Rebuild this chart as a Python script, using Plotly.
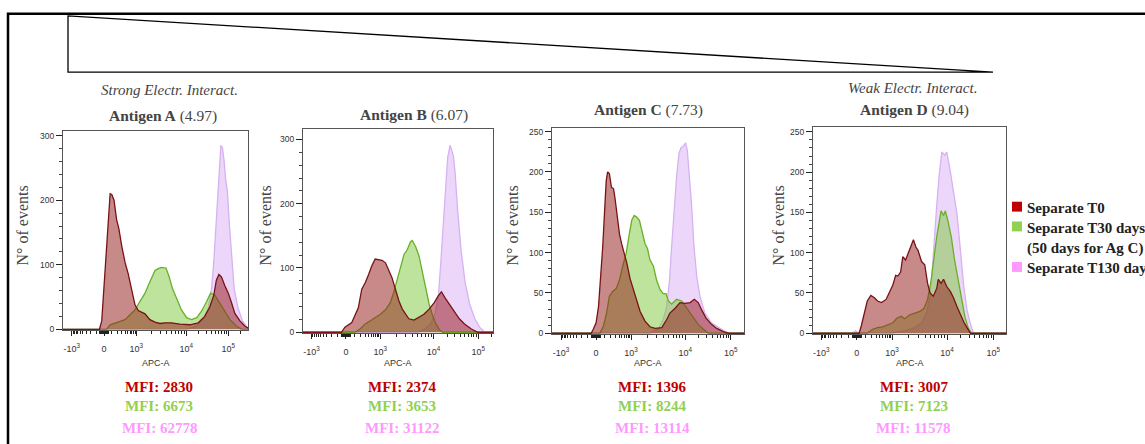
import numpy as np
import plotly.graph_objects as go

W, H = 1145, 444

# ---------------- data ----------------
# x values are positions on the biexponential APC-A display axis
# (-10^3 -> -1, 0 -> 0, 10^3 -> 1, 10^4 -> 2.55, 10^5 -> 3.85); y = number of events
x_tick_pos = [-1, 0, 1, 2.55, 3.85]
x_tick_text = ["-10<sup>3</sup>", "0", "10<sup>3</sup>", "10<sup>4</sup>", "10<sup>5</sup>"]

antigens = ["Antigen A", "Antigen B", "Antigen C", "Antigen D"]
pi_values = ["4.97", "6.07", "7.73", "9.04"]
mfi_t0 = [2830, 2374, 1396, 3007]
mfi_t30 = [6673, 3653, 8244, 7123]
mfi_t130 = [62778, 31122, 13114, 11578]
legend_labels = ["Separate T0", "Separate T30 days<br>(50 days for Ag C)", "Separate T130 days"]

# Antigen A
a_t0_u = [-1.3, -0.14, -0.07, 0.03, 0.11, 0.19, 0.24, 0.31, 0.39, 0.46, 0.55, 0.65, 0.75, 0.86, 0.96, 1.06, 1.16, 1.27, 1.42, 1.58, 1.73, 1.89, 2.09, 2.35, 2.66, 2.92, 3.12, 3.28, 3.40, 3.48, 3.56, 3.64, 3.74, 3.85, 3.95, 4.05, 4.21, 4.36, 4.5]
a_t0_n = [0, 0, 13, 89, 165, 210, 209, 200, 170, 156, 129, 104, 86, 63, 38, 29, 27, 24, 15, 11, 9, 10, 10, 8, 7, 10, 20, 35, 53, 76, 85, 81, 68, 56, 41, 25, 13, 5, 1]
a_t30_u = [-1.3, 0.08, 0.19, 0.34, 0.49, 0.65, 0.80, 0.96, 1.11, 1.27, 1.37, 1.47, 1.58, 1.68, 1.78, 1.92, 2.02, 2.12, 2.25, 2.40, 2.56, 2.71, 2.87, 3.02, 3.18, 3.30, 3.43, 3.59, 3.74, 3.90, 4.10, 4.26, 4.5]
a_t30_n = [0, 0, 7, 10, 13, 15, 22, 30, 43, 56, 68, 79, 91, 94, 96, 95, 81, 63, 48, 30, 18, 15, 18, 28, 43, 56, 53, 41, 28, 15, 5, 0, 0]
a_t130_u = [-1.3, 2.56, 2.87, 3.07, 3.23, 3.33, 3.40, 3.46, 3.52, 3.57, 3.62, 3.67, 3.72, 3.77, 3.82, 3.88, 3.95, 4.03, 4.15, 4.29, 4.43, 4.5]
a_t130_n = [0, 0, 5, 15, 33, 63, 104, 155, 205, 256, 285, 281, 261, 231, 215, 165, 114, 63, 33, 13, 3, 1]

# Antigen B
b_t0_u = [-1.3, -0.13, -0.03, 0.07, 0.17, 0.26, 0.36, 0.46, 0.56, 0.66, 0.75, 0.85, 0.95, 1.05, 1.15, 1.25, 1.34, 1.44, 1.54, 1.64, 1.74, 1.83, 1.98, 2.13, 2.27, 2.42, 2.57, 2.69, 2.78, 2.88, 3.01, 3.16, 3.30, 3.45, 3.65, 3.84, 4.4]
b_t0_n = [0, 0, 8, 12, 15, 26, 38, 67, 77, 90, 103, 114, 113, 112, 108, 97, 85, 67, 49, 36, 28, 21, 19, 23, 28, 36, 46, 57, 63, 54, 44, 31, 21, 13, 5, 0, 0]
b_t30_u = [-1.3, 0.26, 0.41, 0.56, 0.71, 0.85, 1.0, 1.15, 1.29, 1.39, 1.49, 1.59, 1.69, 1.78, 1.88, 1.93, 2.03, 2.13, 2.23, 2.32, 2.42, 2.52, 2.62, 2.72, 2.81, 4.4]
b_t30_n = [0, 0, 5, 13, 18, 23, 28, 35, 46, 62, 82, 105, 121, 128, 141, 143, 133, 118, 92, 67, 44, 26, 13, 4, 0, 0]
b_t130_u = [-1.3, 2.08, 2.27, 2.47, 2.59, 2.69, 2.76, 2.83, 2.89, 2.96, 3.03, 3.08, 3.13, 3.18, 3.25, 3.35, 3.47, 3.60, 3.75, 3.89, 4.04, 4.4]
b_t130_n = [0, 0, 4, 13, 28, 56, 108, 169, 221, 272, 291, 282, 274, 246, 190, 128, 77, 44, 21, 8, 0, 0]

# Antigen C
c_t0_u = [-1.3, -0.14, -0.08, 0.0, 0.07, 0.13, 0.19, 0.24, 0.29, 0.33, 0.38, 0.44, 0.50, 0.54, 0.61, 0.67, 0.73, 0.80, 0.88, 0.97, 1.07, 1.16, 1.26, 1.40, 1.54, 1.69, 1.88, 2.02, 2.11, 2.26, 2.40, 2.54, 2.69, 2.81, 2.92, 3.02, 3.14, 3.30, 3.45, 3.64, 3.78, 4.3]
c_t0_n = [0, 0, 5, 13, 33, 66, 107, 148, 189, 200, 198, 181, 179, 168, 144, 123, 111, 101, 87, 68, 54, 40, 27, 15, 8, 6, 7, 17, 25, 31, 38, 37, 38, 42, 38, 29, 19, 11, 6, 2, 0, 0]
c_t30_u = [-1.3, 0.11, 0.21, 0.30, 0.38, 0.48, 0.57, 0.67, 0.76, 0.86, 0.95, 1.02, 1.09, 1.16, 1.24, 1.31, 1.40, 1.47, 1.54, 1.64, 1.73, 1.83, 1.92, 2.0, 2.07, 2.16, 2.30, 2.45, 2.59, 2.78, 2.92, 3.07, 3.21, 4.3]
c_t30_n = [0, 0, 9, 25, 46, 52, 55, 66, 83, 99, 123, 140, 146, 144, 140, 127, 111, 105, 91, 83, 66, 54, 49, 49, 40, 36, 42, 40, 31, 19, 11, 5, 0, 0]
c_t130_u = [-1.3, 1.54, 1.78, 1.92, 2.02, 2.10, 2.16, 2.23, 2.30, 2.37, 2.43, 2.50, 2.56, 2.61, 2.67, 2.73, 2.80, 2.88, 2.97, 3.11, 3.30, 3.50, 3.69, 3.83, 4.3]
c_t130_n = [0, 0, 5, 17, 33, 66, 107, 152, 193, 223, 230, 232, 236, 226, 197, 160, 107, 70, 46, 25, 13, 7, 2, 0, 0]

# Antigen D
d_t0_u = [-1.3, 0.07, 0.13, 0.21, 0.30, 0.40, 0.50, 0.59, 0.70, 0.83, 0.92, 1.02, 1.10, 1.16, 1.24, 1.30, 1.38, 1.45, 1.52, 1.60, 1.67, 1.73, 1.83, 1.92, 2.0, 2.07, 2.16, 2.26, 2.30, 2.38, 2.45, 2.54, 2.64, 2.73, 2.83, 2.92, 3.02, 3.11, 3.21, 4.3]
d_t0_n = [0, 0, 9, 25, 40, 47, 44, 40, 38, 42, 50, 60, 72, 71, 76, 95, 91, 99, 105, 116, 107, 103, 89, 85, 62, 50, 46, 56, 67, 62, 67, 58, 52, 44, 33, 23, 14, 7, 0, 0]
d_t30_u = [-1.3, 0.30, 0.45, 0.59, 0.73, 0.88, 1.02, 1.14, 1.26, 1.35, 1.50, 1.64, 1.78, 1.90, 2.0, 2.10, 2.19, 2.26, 2.32, 2.38, 2.45, 2.50, 2.57, 2.67, 2.76, 2.86, 2.95, 3.05, 3.14, 3.24, 4.3]
d_t30_n = [0, 0, 5, 7, 8, 11, 13, 19, 21, 18, 23, 25, 27, 31, 42, 66, 99, 121, 136, 152, 146, 152, 140, 119, 91, 66, 42, 21, 7, 0, 0]
d_t130_u = [-1.3, -0.12, -0.03, 0.07, 0.97, 1.35, 1.64, 1.83, 1.97, 2.07, 2.13, 2.19, 2.26, 2.32, 2.40, 2.48, 2.54, 2.61, 2.69, 2.75, 2.83, 2.90, 2.95, 3.02, 3.11, 3.21, 3.30, 4.3]
d_t130_n = [0, 0, 3, 0, 0, 3, 7, 13, 25, 46, 78, 119, 160, 193, 225, 221, 225, 209, 185, 168, 148, 115, 87, 58, 29, 11, 0, 0]

panel_series = [
    (a_t0_u, a_t0_n, a_t30_u, a_t30_n, a_t130_u, a_t130_n),
    (b_t0_u, b_t0_n, b_t30_u, b_t30_n, b_t130_u, b_t130_n),
    (c_t0_u, c_t0_n, c_t30_u, c_t30_n, c_t130_u, c_t130_n),
    (d_t0_u, d_t0_n, d_t30_u, d_t30_n, d_t130_u, d_t130_n),
]

# ---------------- layout helpers ----------------
def px(x):
    return x / W

def py(y):
    return 1 - y / H

# plot frames in pixels: (left, top, right, bottom), x range, y range
frames = [
    ((63, 131, 248, 333), [-1.27, 4.46], [-1.5, 308], 100, 20),
    ((303, 129, 493, 336), [-1.25, 4.28], [-1.5, 317], 100, 20),
    ((552, 128, 744, 337), [-1.26, 4.23], [-1.2, 255], 50, 10),
    ((813, 127, 1006, 337), [-1.23, 4.21], [-1.2, 256.6], 50, 10),
]
ylab_x = [22, 265, 512, 778]
title_pos = [(163, 116), (414, 115), (648, 110), (914, 110)]

# decoration: minor tick positions on the biexponential axis
def to_disp(v):
    a = abs(v)
    if a >= 1000:
        anchors = {3: 1.0, 4: 2.55, 5: 3.85, 6: 5.15}
        k = int(np.floor(np.log10(a)))
        d = anchors[k] + (anchors[k + 1] - anchors[k]) * (np.log10(a) - k)
    else:
        d = np.arcsinh(a / 150) / np.arcsinh(1000 / 150)
    return float(np.sign(v) * d)

minor_vals = []
for m in range(1, 10):
    minor_vals += [-m * 100, m * 100, m * 1000, m * 10000]
for m in range(1, 6):
    minor_vals += [-m * 10, m * 10]
minor_vals += [2e5]
minor_pos = sorted(set(round(to_disp(v), 4) for v in minor_vals if v not in (1000, 10000)))

RED_FILL, RED_LINE = "rgba(150,28,28,0.52)", "rgb(120,18,22)"
GRN_FILL, GRN_LINE = "rgba(125,200,60,0.5)", "rgb(104,176,40)"
PNK_FILL, PNK_LINE = "rgba(212,165,245,0.45)", "rgb(214,178,240)"

SERIF = "Liberation Serif, DejaVu Serif, serif"
SANS = "Liberation Sans, Arial, sans-serif"

fig = go.Figure()
layout = dict()
annotations = []

for i, ((l, t, r, b), xr, yr, ymaj, ymin) in enumerate(frames):
    k = "" if i == 0 else str(i + 1)
    xa, ya = "x" + k, "y" + k
    t0u, t0n, t30u, t30n, t130u, t130n = panel_series[i]
    for (u, n, fc, lc) in [(t130u, t130n, PNK_FILL, PNK_LINE),
                           (t30u, t30n, GRN_FILL, GRN_LINE),
                           (t0u, t0n, RED_FILL, RED_LINE)]:
        fig.add_trace(go.Scatter(x=u, y=n, xaxis=xa, yaxis=ya, mode="lines",
                                 fill="tozeroy", fillcolor=fc,
                                 line=dict(color=lc, width=1.3),
                                 showlegend=False, hoverinfo="skip", cliponaxis=True))
    layout["xaxis" + k] = dict(
        domain=[px(l), px(r)], range=xr, anchor=ya,
        tickmode="array", tickvals=x_tick_pos, ticktext=x_tick_text,
        ticks="outside", ticklen=5, tickwidth=1.2, tickcolor="#222",
        ticklabelstandoff=5,
        tickfont=dict(family=SANS, size=9, color="#333"),
        minor=dict(tickvals=minor_pos, ticklen=3, tickwidth=1, tickcolor="#222", ticks="outside"),
        showline=True, linecolor="#555", linewidth=1, mirror=True,
        showgrid=False, zeroline=False, fixedrange=True)
    layout["yaxis" + k] = dict(
        domain=[py(b), py(t)], range=yr, anchor=xa,
        dtick=ymaj, tick0=0, ticks="outside", ticklen=6, tickwidth=1.2, tickcolor="#222",
        tickfont=dict(family=SANS, size=8.5, color="#333"),
        minor=dict(dtick=ymin, tick0=0, ticklen=3, tickwidth=1, tickcolor="#444", ticks="outside"),
        showline=True, linecolor="#555", linewidth=1, mirror=True,
        showgrid=False, zeroline=False, fixedrange=True)

    cx = (l + r) / 2
    annotations.append(dict(text="N° of events", x=px(ylab_x[i]), y=py(227), textangle=-90,
                            font=dict(family=SERIF, size=16, color="#444")))
    annotations.append(dict(text="APC-A", x=px(cx), y=py(366),
                            font=dict(family=SANS, size=9, color="#333")))
    annotations.append(dict(text=f"<b>MFI: {mfi_t0[i]}</b>", x=px(cx + 4), y=py(390),
                            font=dict(family=SERIF, size=15, color="#C00000")))
    annotations.append(dict(text=f"<b>MFI: {mfi_t30[i]}</b>", x=px(cx + 4), y=py(410),
                            font=dict(family=SERIF, size=15, color="#92D050")))
    annotations.append(dict(text=f"<b>MFI: {mfi_t130[i]}</b>", x=px(cx + 4), y=py(432),
                            font=dict(family=SERIF, size=15, color="#FF99FF")))
    tx, ty = title_pos[i]
    annotations.append(dict(text=f"<b>{antigens[i]}</b> ({pi_values[i]})", x=px(tx), y=py(ty),
                            font=dict(family=SERIF, size=15.5, color="#444")))

annotations.append(dict(text="<i>Strong Electr. Interact.</i>", x=px(169), y=py(90),
                        font=dict(family=SERIF, size=15, color="#444")))
annotations.append(dict(text="<i>Weak Electr. Interact.</i>", x=px(913), y=py(88),
                        font=dict(family=SERIF, size=15, color="#444")))

# legend
leg_colors = ["#C00000", "#92D050", "#FF99FF"]
leg_rows = [208, 228, 269]
shapes = []
for c, yy, lab in zip(leg_colors, leg_rows, legend_labels):
    shapes.append(dict(type="rect", xref="paper", yref="paper",
                       x0=px(1012), x1=px(1022), y0=py(yy + 5), y1=py(yy - 5),
                       fillcolor=c, line=dict(width=0)))
    annotations.append(dict(text=f"<b>{lab}</b>", x=px(1025), y=py(yy - 9), xanchor="left",
                            yanchor="top", align="left",
                            font=dict(family=SERIF, size=15, color="#222")))

for a in annotations:
    a.setdefault("xref", "paper")
    a.setdefault("yref", "paper")
    a.setdefault("showarrow", False)
    a.setdefault("xanchor", "center")
    a.setdefault("yanchor", "middle")

# outer border and wedge
shapes.append(dict(type="rect", xref="paper", yref="paper",
                   x0=px(8), x1=px(1300), y0=py(600), y1=py(13),
                   line=dict(color="black", width=2.5)))
shapes.append(dict(type="path", xref="paper", yref="paper",
                   path=f"M {px(68)},{py(15)} L {px(68)},{py(72)} L {px(993)},{py(72)} Z",
                   line=dict(color="black", width=1.3)))

fig.update_layout(**layout)
fig.update_layout(width=W, height=H, margin=dict(l=0, r=0, t=0, b=0),
                  paper_bgcolor="white", plot_bgcolor="white",
                  annotations=annotations, shapes=shapes, showlegend=False)
fig.write_html("out.html", config={"displayModeBar": False})
